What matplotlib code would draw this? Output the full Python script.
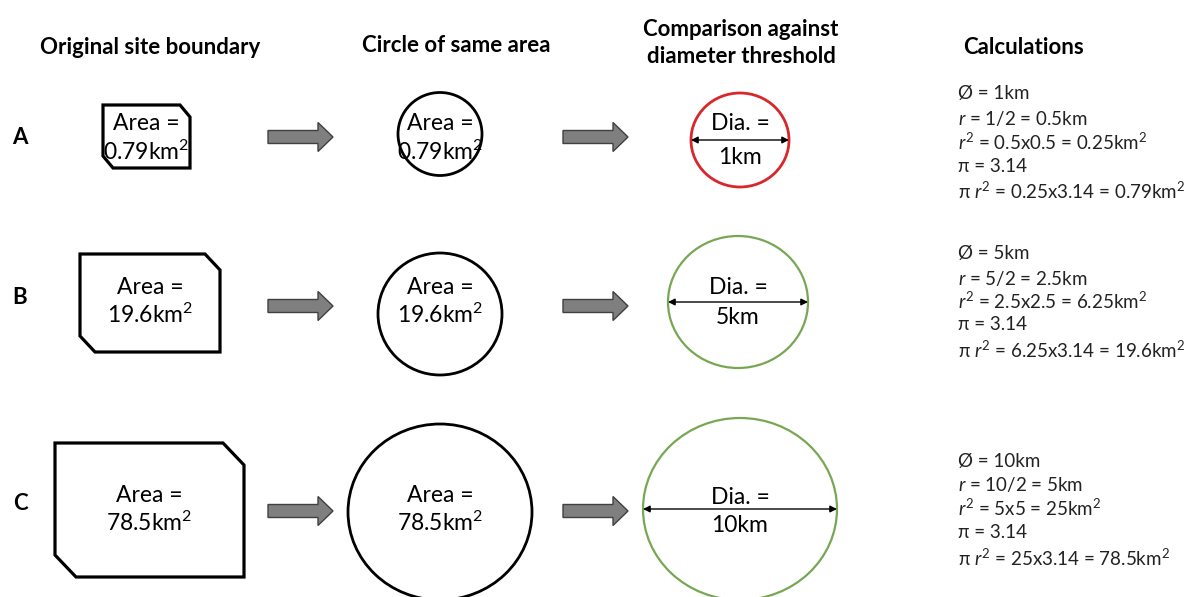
import matplotlib.pyplot as plt
from matplotlib.patches import Polygon, Ellipse

plt.rcParams['font.family'] = ['Lato', 'DejaVu Sans']
plt.rcParams['mathtext.fontset'] = 'custom'
plt.rcParams['mathtext.rm'] = 'Lato'
plt.rcParams['mathtext.it'] = 'Lato:italic'
plt.rcParams['mathtext.bf'] = 'Lato:bold'

# data
rows = ["A", "B", "C"]
areas = ["0.79", "19.6", "78.5"]
diameters = ["1", "5", "10"]
radius_calc = ["1/2 = 0.5", "5/2 = 2.5", "10/2 = 5"]
r_squared = ["0.5x0.5 = 0.25", "2.5x2.5 = 6.25", "5x5 = 25"]
pi_r2 = ["0.25x3.14 = 0.79", "6.25x3.14 = 19.6", "25x3.14 = 78.5"]
pi_value = "3.14"
over_threshold = [False, True, True]
headings = ["Original site boundary", "Circle of same area",
            "Comparison against\ndiameter threshold", "Calculations"]

# layout (pixels)
row_y = [137, 297, 504]
box = [(103, 105, 190, 168, 10, 12), (80, 254, 220, 352, 15, 16), (55, 443, 244, 577, 21, 22)]
circ = [(440, 134, 84, 83), (440, 314, 124, 122), (440, 512, 184, 176)]
dia = [(740, 140, 98, 94), (738, 302, 140, 132), (740, 509, 194, 182)]
arrow_y = [137, 306, 511]
area_text_y = [(124, 152), (287, 315), (495, 523)]
dia_text_y = [(123, 158), (287, 317), (497, 525)]
calc_y = [(94, 118, 142, 166, 191), (254, 278, 301, 325, 350), (461, 484, 508, 533, 558)]

fig = plt.figure(figsize=(11.94, 5.97), dpi=100)
ax = fig.add_axes([0, 0, 1, 1])
ax.set_xlim(0, 1194)
ax.set_ylim(597, 0)
ax.axis('off')

hs = 16
ax.text(150, 48, headings[0], fontsize=hs, fontweight='bold', ha='center', va='center')
ax.text(456, 45, headings[1], fontsize=hs, fontweight='bold', ha='center', va='center')
ax.text(741, 43, headings[2], fontsize=hs, fontweight='bold', ha='center', va='center',
        linespacing=1.3)
ax.text(1023, 48, headings[3], fontsize=hs, fontweight='bold', ha='center', va='center')


def block_arrow(x0, yc):
    pts = [(x0, yc - 6.5), (x0 + 50, yc - 6.5), (x0 + 50, yc - 14.5), (x0 + 65, yc),
           (x0 + 50, yc + 14.5), (x0 + 50, yc + 6.5), (x0, yc + 6.5)]
    ax.add_patch(Polygon(pts, closed=True, facecolor='#7f7f7f', edgecolor='#404040', lw=1))


fs = 16.5
for i, row in enumerate(rows):
    ax.text(20, row_y[i], row, fontsize=hs, fontweight='bold', ha='center', va='center')

    # original boundary with two clipped corners
    x0, y0, x1, y1, cx, cy = box[i]
    pts = [(x0, y0), (x1 - cx, y0), (x1, y0 + cy), (x1, y1), (x0 + cx, y1), (x0, y1 - cy)]
    ax.add_patch(Polygon(pts, closed=True, fill=False, edgecolor='black', lw=2.3,
                         joinstyle='miter'))
    xm = (x0 + x1) / 2
    ax.text(xm, area_text_y[i][0], "Area =", fontsize=fs, ha='center', va='center')
    ax.text(xm, area_text_y[i][1], areas[i] + r"$\mathrm{km}^2$", fontsize=fs,
            ha='center', va='center')

    # circle of same area
    ex, ey, ew, eh = circ[i]
    ax.add_patch(Ellipse((ex, ey), ew, eh, fill=False, edgecolor='black', lw=2))
    ax.text(ex, area_text_y[i][0], "Area =", fontsize=fs, ha='center', va='center')
    ax.text(ex, area_text_y[i][1], areas[i] + r"$\mathrm{km}^2$", fontsize=fs,
            ha='center', va='center')

    block_arrow(268, arrow_y[i])
    block_arrow(563, arrow_y[i])

    # diameter threshold
    dx, dy, dw, dh = dia[i]
    col = '#77a753' if over_threshold[i] else '#d9262b'
    ax.add_patch(Ellipse((dx, dy), dw, dh, fill=False, edgecolor=col,
                         lw=1.6 if over_threshold[i] else 2))
    ax.annotate('', xy=(dx - dw / 2, dy), xytext=(dx + dw / 2, dy),
                arrowprops=dict(arrowstyle='<|-|>', color='black', lw=1,
                                mutation_scale=10, shrinkA=0, shrinkB=0))
    ax.text(dx, dia_text_y[i][0], "Dia. =", fontsize=fs, ha='center', va='center')
    ax.text(dx, dia_text_y[i][1], diameters[i] + "km", fontsize=fs, ha='center', va='center')

    # calculations
    lines = ["Ø = " + diameters[i] + "km",
             r"$\mathit{r}$ = " + radius_calc[i] + "km",
             r"$\mathit{r}^2$ = " + r_squared[i] + r"$\mathrm{km}^2$",
             "π = " + pi_value,
             r"π $\mathit{r}^2$ = " + pi_r2[i] + r"$\mathrm{km}^2$"]
    for j, line in enumerate(lines):
        ax.text(958, calc_y[i][j], line, fontsize=13.5, ha='left', va='center', color='#222222')

fig.savefig('out.png', dpi=100, facecolor='white')
